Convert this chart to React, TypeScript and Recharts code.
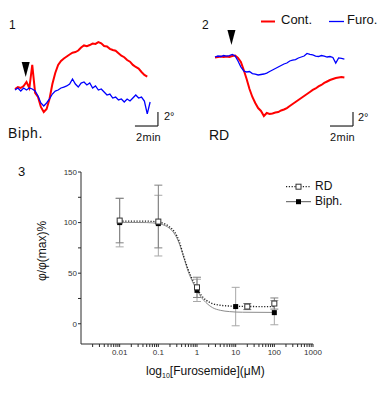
import React from 'react'
import {
  LineChart, Line, XAxis, YAxis, ReferenceLine, ReferenceDot,
  ComposedChart, Scatter, ErrorBar,
} from 'recharts'

// ── Shared styles ─────────────────────────────────────────────────────────

const FONT = '"Liberation Sans", Arial, Helvetica, sans-serif'
const RED = '#ff0000'
const BLUE = '#0000ff'
const INK = '#222'

// trace sampling (minutes) and drawing scale of the traces
const STEP = 0.25
const PX_PER_MIN = 11.5
const PX_PER_DEG = 7

// ── Trace data (degrees from baseline, one value every STEP min) ─────────

const BIPH_CONT = [
  -0.14, 0.14, 0.0, 0.29, 0.86, 0.0, 3.29, -0.71, -1.29, -2.71, -3.43, -3.0,
  -1.57, 0.57, 2.14, 3.29, 3.86, 4.21, 4.5, 4.79, 5.05, 5.14, 5.35, 5.79,
  6.08, 5.98, 6.14, 6.35, 6.3, 6.55, 6.38, 6.0, 5.93, 5.6, 5.43, 5.33,
  4.98, 4.62, 4.4, 4.0, 3.76, 3.3, 3.0, 2.78, 2.29, 1.88, 1.64,
]
const BIPH_FURO = [
  -0.29, 0.0, -0.43, 0.0, -0.29, 0.0, -0.14, -0.43, -1.14, -2.14, -2.57, -2.14,
  -1.57, -0.86, -0.43, -0.29, 0.0, 0.14, 0.29, 0.57, 1.29, 0.57, 0.14, 0.71,
  0.86, 0.43, 0.71, 0.0, 0.29, -0.29, -0.14, -0.57, -1.0, -0.86, -1.43, -1.29,
  -1.71, -1.57, -2.0, -1.57, -1.86, -1.43, -1.0, -1.43, -1.29, -1.86, -3.71, -2.0,
]
const RD_CONT = [
  -0.07, 0.0, 0.07, 0.0, 0.07, 0.0, 0.14, 0.21, -0.14, -0.71, -1.86, -3.14,
  -4.57, -5.71, -6.57, -7.29, -7.71, -8.43, -8.0, -8.14, -8.07, -7.93, -7.86, -7.64,
  -7.5, -7.29, -7.0, -6.71, -6.43, -6.14, -5.86, -5.57, -5.29, -5.0, -4.71, -4.5,
  -4.21, -4.0, -3.71, -3.5, -3.29, -3.14, -3.0, -2.93, -2.86, -2.93,
]
const RD_FURO = [
  0.0, 0.14, 0.07, 0.21, 0.14, 0.21, 0.36, 0.14, -0.57, -1.43, -2.0, -2.14,
  -2.07, -2.36, -2.43, -2.57, -2.5, -2.43, -2.29, -2.07, -1.86, -1.64, -1.43, -1.21,
  -1.0, -0.86, -0.57, -0.43, -0.36, -0.14, 0.0, 0.14, 0.5, 0.36, 0.29, 0.14,
  0.07, 0.21, 0.14, 0.0, 0.07, -0.07, -0.86, -0.14, -0.21, -0.29,
]

// ── Dose-response data ────────────────────────────────────────────────────

const RD_CONC = [0.01, 0.1, 1, 20, 100]
const RD_MEAN = [102, 101, 36, 17, 20]
const RD_ERR_LO = [22, 26, 10, 3, 5.5]
const RD_ERR_HI = [22, 36, 10, 3, 5.5]

const BIPH_CONC = [0.01, 0.1, 1, 10, 100]
const BIPH_MEAN = [100, 99, 33, 17, 11]
const BIPH_ERR_LO = [24, 32, 11, 19, 12]
const BIPH_ERR_HI = [24, 28, 11, 19, 12]

// fitted curves
const FIT_CONC = [0.01, 0.05, 0.1, 0.15, 0.2, 0.26, 0.35, 0.45, 0.6, 0.8, 1, 1.3, 1.7, 2.5, 4, 7, 15, 100]
const FIT_RD = [101.5, 101.4, 100.5, 98.5, 95.5, 91, 81, 67, 53, 42, 35, 28, 23.5, 20, 18.3, 17.5, 17.1, 17]
const FIT_BIPH = [100.2, 100, 99, 97, 94, 89, 79, 66, 51, 40, 33, 26, 21, 16, 13.3, 12, 11.4, 11.2]

const X_TICKS = [0.01, 0.1, 1, 10, 100, 1000]
const X_TICK_LABELS = ['0.01', '0.1', '1', '10', '100', '1000']
const DECADES = [0.001, 0.01, 0.1, 1, 10, 100]
const Y_TICKS = [0, 25, 50, 75, 100, 125, 150]
const Y_TICK_LABELS = ['0', '', '50', '', '100', '', '150']

// ── Helpers ───────────────────────────────────────────────────────────────

const toSeries = (vals: number[]) => vals.map((v, i) => ({ t: i * STEP, v }))

const X_ALL_TICKS = [
  ...DECADES.flatMap((d) => [2, 3, 4, 5, 6, 7, 8, 9].map((m) => m * d)),
  ...X_TICKS,
].sort((a, b) => a - b)

const fmtX = (v: number) => {
  const i = X_TICKS.findIndex((t) => Math.abs(t - v) < t * 1e-6)
  return i >= 0 ? X_TICK_LABELS[i] : ''
}
const fmtY = (v: number) => {
  const i = Y_TICKS.indexOf(v)
  return i >= 0 ? Y_TICK_LABELS[i] : ''
}

function Txt({ x, y, size = 12, children, style }: any) {
  return (
    <div
      style={{
        position: 'absolute', left: x, top: y, transform: 'translateY(-50%)',
        fontSize: size, lineHeight: 1, fontFamily: FONT, color: '#111', whiteSpace: 'nowrap',
        ...style,
      }}
    >
      {children}
    </div>
  )
}

const arrowShape = (p: any) => (
  <path d={`M${p.cx - 4},${p.cy - 7.5} L${p.cx + 4},${p.cy - 7.5} L${p.cx},${p.cy + 7.5} Z`} fill="#000" />
)

// ── Trace panel ───────────────────────────────────────────────────────────

interface TraceProps {
  cont: number[]
  furo: number[]
  startPx: number
  basePx: number
  arrowT: number
  arrowDeg: number
  barT: number
  barDeg: number
}

function TracePanel({ cont, furo, startPx, basePx, arrowT, arrowDeg, barT, barDeg }: TraceProps) {
  const W = 192
  const H = 150
  const xDomain = [-startPx / PX_PER_MIN, (W - startPx) / PX_PER_MIN]
  const yDomain = [-(H - basePx) / PX_PER_DEG, basePx / PX_PER_DEG]
  return (
    <LineChart width={W} height={H} margin={{ top: 0, right: 0, bottom: 0, left: 0 }}>
      <XAxis hide type="number" dataKey="t" domain={xDomain} allowDataOverflow />
      <YAxis hide type="number" domain={yDomain} allowDataOverflow />
      <Line data={toSeries(cont)} dataKey="v" type="linear" stroke={RED} strokeWidth={2}
        dot={false} isAnimationActive={false} />
      <Line data={toSeries(furo)} dataKey="v" type="linear" stroke={BLUE} strokeWidth={1.3}
        dot={false} isAnimationActive={false} />
      <ReferenceLine segment={[{ x: barT, y: barDeg }, { x: barT, y: barDeg - 2 }]} stroke="#222" strokeWidth={1.2} />
      <ReferenceLine segment={[{ x: barT - 2, y: barDeg - 2 }, { x: barT, y: barDeg - 2 }]} stroke="#222" strokeWidth={1.2} />
      <ReferenceDot x={arrowT} y={arrowDeg} r={0} shape={arrowShape} />
    </LineChart>
  )
}

// ── Dose-response panel ───────────────────────────────────────────────────

const openSquare = (p: any) =>
  p.cx == null ? <g /> : (
    <rect x={p.cx - 2.5} y={p.cy - 2.5} width={5} height={5} fill="#fff" stroke="#333" strokeWidth={1} />
  )
const filledSquare = (p: any) =>
  p.cx == null ? <g /> : <rect x={p.cx - 2.5} y={p.cy - 2.5} width={5} height={5} fill="#000" />
const noShape = () => <g />

function DosePanel() {
  const rdPts = RD_CONC.map((x, i) => ({ x, y: RD_MEAN[i], err: [RD_ERR_LO[i], RD_ERR_HI[i]] }))
  const biphPts = BIPH_CONC.map((x, i) => ({ x, y: BIPH_MEAN[i], err: [BIPH_ERR_LO[i], BIPH_ERR_HI[i]] }))
  const fitRd = FIT_CONC.map((x, i) => ({ x, y: FIT_RD[i] }))
  const fitBiph = FIT_CONC.map((x, i) => ({ x, y: FIT_BIPH[i] }))
  const tick = { fontSize: 8, fill: '#333', fontFamily: FONT }

  return (
    <ComposedChart width={384} height={250} margin={{ top: 22, right: 71, bottom: 26, left: 41 }}>
      <XAxis dataKey="x" type="number" scale="log" domain={[0.001, 1000]} allowDataOverflow
        ticks={X_ALL_TICKS} interval={0} tickFormatter={fmtX} tickSize={3} tickMargin={2}
        tick={tick} stroke="#2a2a2a" height={30} />
      <YAxis type="number" domain={[-20, 150]} allowDataOverflow ticks={Y_TICKS} interval={0}
        tickFormatter={fmtY} tickSize={3} tickMargin={1} tick={tick} stroke="#2a2a2a" width={40} />
      <Scatter data={biphPts} dataKey="y" shape={noShape} isAnimationActive={false}>
        <ErrorBar dataKey="err" direction="y" width={4} stroke="#a8a8a8" strokeWidth={1} />
      </Scatter>
      <Scatter data={rdPts} dataKey="y" shape={noShape} isAnimationActive={false}>
        <ErrorBar dataKey="err" direction="y" width={4} stroke="#808080" strokeWidth={1} />
      </Scatter>
      <Line data={fitBiph} dataKey="y" type="monotone" stroke="#8c8c8c" strokeWidth={1}
        dot={false} isAnimationActive={false} />
      <Line data={fitRd} dataKey="y" type="monotone" stroke={INK} strokeWidth={1.3}
        strokeDasharray="1.2 1.6" dot={false} isAnimationActive={false} />
      <Scatter data={biphPts} dataKey="y" shape={filledSquare} isAnimationActive={false} />
      <Scatter data={rdPts} dataKey="y" shape={openSquare} isAnimationActive={false} />
    </ComposedChart>
  )
}

// ── Page ──────────────────────────────────────────────────────────────────

export default function App() {
  return (
    <div style={{ position: 'absolute', left: 0, top: 0, width: 384, height: 400, background: '#fff', overflow: 'hidden' }}>
      <div style={{ position: 'absolute', left: 0, top: 0 }}>
        <TracePanel cont={BIPH_CONT} furo={BIPH_FURO} startPx={15} basePx={88}
          arrowT={0.93} arrowDeg={2.64} barT={12.43} barDeg={-3.43} />
      </div>
      <div style={{ position: 'absolute', left: 192, top: 0 }}>
        <TracePanel cont={RD_CONT} furo={RD_FURO} startPx={23} basePx={57}
          arrowT={1.43} arrowDeg={2.79} barT={12.0} barDeg={-7.86} />
      </div>
      <div style={{ position: 'absolute', left: 0, top: 150 }}>
        <DosePanel />
      </div>

      {/* panel labels */}
      <Txt x={9} y={25} size={12}>1</Txt>
      <Txt x={202} y={25} size={12}>2</Txt>
      <Txt x={18} y={171} size={13}>3</Txt>
      <Txt x={8} y={133} size={14} style={{ letterSpacing: 0.6 }}>Biph.</Txt>
      <Txt x={209} y={135} size={14}>RD</Txt>

      {/* scale bar texts */}
      <Txt x={164} y={116} size={11}>2°</Txt>
      <Txt x={136} y={137} size={11} style={{ letterSpacing: 0.3 }}>2min</Txt>
      <Txt x={358} y={117} size={11}>2°</Txt>
      <Txt x={330} y={137} size={11} style={{ letterSpacing: 0.3 }}>2min</Txt>

      {/* trace legend */}
      <svg style={{ position: 'absolute', left: 0, top: 0 }} width={384} height={40}>
        <line x1={261} y1={21.5} x2={275} y2={21.5} stroke={RED} strokeWidth={2} />
        <line x1={329} y1={21.5} x2={344} y2={21.5} stroke={BLUE} strokeWidth={1.3} />
      </svg>
      <Txt x={281} y={19} size={13}>Cont.</Txt>
      <Txt x={347} y={19} size={13}>Furo.</Txt>

      {/* dose legend */}
      <svg style={{ position: 'absolute', left: 0, top: 170 }} width={384} height={40}>
        <line x1={286} y1={16.7} x2={311} y2={16.7} stroke={INK} strokeWidth={1.2} strokeDasharray="1.2 1.6" />
        <rect x={296} y={14.2} width={5} height={5} fill="#fff" stroke="#333" />
        <line x1={286} y1={31.7} x2={311} y2={31.7} stroke="#555" strokeWidth={1} />
        <rect x={296} y={29.2} width={5} height={5} fill="#000" />
      </svg>
      <Txt x={315} y={186} size={12}>RD</Txt>
      <Txt x={315} y={201} size={12}>Biph.</Txt>

      {/* axis titles */}
      <Txt x={146} y={372} size={12}>
        log<sub style={{ fontSize: 7, verticalAlign: -3 }}>10</sub>[Furosemide](μM)
      </Txt>
      <div
        style={{
          position: 'absolute', left: 42, top: 251, transform: 'translate(-50%, -50%) rotate(-90deg)',
          fontSize: 12, lineHeight: 1, fontFamily: FONT, color: '#111', whiteSpace: 'nowrap',
        }}
      >
        φ/φ(max)%
      </div>
    </div>
  )
}
